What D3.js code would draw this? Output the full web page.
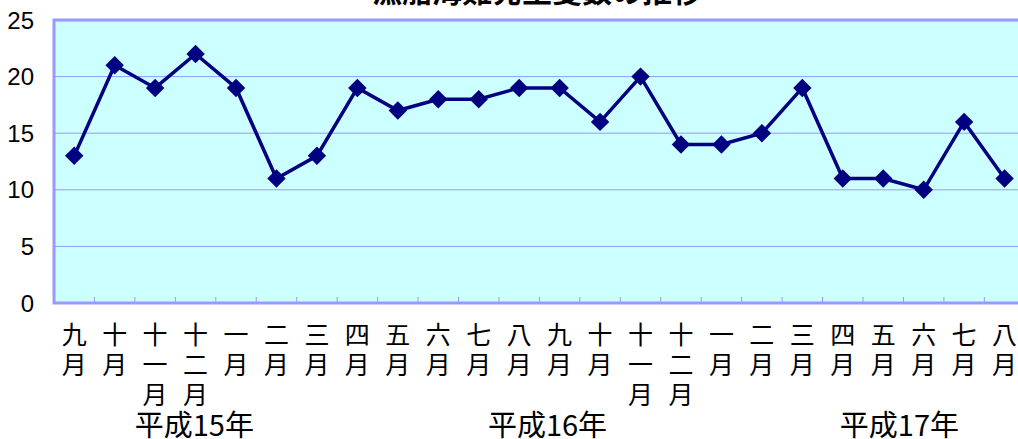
<html>
<head>
  <meta charset="utf-8">
  <style>
    body { margin: 0; background: #fff; }
    .ylab { font-family: "Liberation Sans", Arial, sans-serif; font-size: 24px; }
    .xlab { font-family: "Noto Sans CJK JP", sans-serif; font-size: 25px; }
    .year { font-family: "Noto Sans CJK JP", sans-serif; font-size: 29px; }
    .title { font-family: "Noto Sans CJK JP", sans-serif; font-size: 30px; font-weight: bold; }
  </style>
</head>
<body>
  <div id="chart"></div>
  <script src="https://cdn.jsdelivr.net/npm/d3@7"></script>
  <script>
    // month labels (vertical text), one per point
    let months = ["九月", "十月", "十一月", "十二月", "一月", "二月", "三月", "四月",
      "五月", "六月", "七月", "八月", "九月", "十月", "十一月", "十二月",
      "一月", "二月", "三月", "四月", "五月", "六月", "七月", "八月"];
    // number of boats
    let counts = [13, 21, 19, 22, 19, 11, 13, 19, 17, 18, 18, 19,
      19, 16, 20, 14, 14, 15, 19, 11, 11, 10, 16, 11];
    let yTicks = [0, 5, 10, 15, 20, 25];
    // year captions and where they sit (in category index units)
    let years = ["平成15年", "平成16年", "平成17年"];
    let yearPos = [2.97, 11.7, 20.4];
    let title = "漁船海難発生隻数の推移";

    let width = 1018, height = 439;
    let margin = { top: 20, left: 54, bottom: 303 };
    let band = 40.45;

    let svg = d3.select("#chart").append("svg")
      .attr("width", width)
      .attr("height", height);

    let x = d3.scaleBand()
      .domain(d3.range(counts.length))
      .range([margin.left, margin.left + band * counts.length]);
    let y = d3.scaleLinear()
      .domain([0, 25])
      .range([margin.bottom, margin.top]);
    let xc = function (i) { return x(i) + x.bandwidth() / 2; };

    // plot area
    svg.append("rect")
      .attr("x", x.range()[0])
      .attr("y", y(25))
      .attr("width", x.range()[1] - x.range()[0])
      .attr("height", y(0) - y(25))
      .attr("fill", "#ccffff");

    // gridlines
    svg.selectAll(".grid")
      .data(yTicks.slice(1, -1))
      .enter().append("line")
      .attr("x1", x.range()[0])
      .attr("x2", x.range()[1])
      .attr("y1", d => y(d))
      .attr("y2", d => y(d))
      .attr("stroke", "#9999ff")
      .attr("stroke-width", 1);

    // category tick marks (pointing up from the bottom)
    svg.selectAll(".tick")
      .data(d3.range(1, counts.length))
      .enter().append("line")
      .attr("x1", d => x(d))
      .attr("x2", d => x(d))
      .attr("y1", y(0))
      .attr("y2", y(0) - 6)
      .attr("stroke", "#9999ff")
      .attr("stroke-width", 1);

    // border
    svg.append("rect")
      .attr("x", x.range()[0])
      .attr("y", y(25))
      .attr("width", x.range()[1] - x.range()[0])
      .attr("height", y(0) - y(25))
      .attr("fill", "none")
      .attr("stroke", "#9999ff")
      .attr("stroke-width", 3);

    // y labels
    svg.selectAll(".ylab")
      .data(yTicks)
      .enter().append("text")
      .attr("class", "ylab")
      .attr("x", 34)
      .attr("y", d => y(d))
      .attr("dy", "0.36em")
      .attr("text-anchor", "end")
      .text(d => d);

    // line + diamonds
    let line = d3.line()
      .x((d, i) => xc(i))
      .y(d => y(d));
    svg.append("path")
      .datum(counts)
      .attr("d", line)
      .attr("fill", "none")
      .attr("stroke", "#000080")
      .attr("stroke-width", 3.5);

    let diamond = d3.symbol().type(d3.symbolSquare).size(170);
    svg.selectAll(".pt")
      .data(counts)
      .enter().append("path")
      .attr("d", diamond)
      .attr("transform", (d, i) => `translate(${xc(i)},${y(d)}) rotate(45)`)
      .attr("fill", "#000080");

    // month labels, one character per row
    let xl = svg.selectAll(".xlab")
      .data(months)
      .enter().append("text")
      .attr("class", "xlab")
      .attr("text-anchor", "middle");
    xl.selectAll("tspan")
      .data((d, i) => d.split("").map(c => ({ c: c, i: i })))
      .enter().append("tspan")
      .attr("x", d => xc(d.i))
      .attr("y", (d, j) => 334 + j * 30)
      .attr("dy", "0.38em")
      .text(d => d.c);

    // year captions
    svg.selectAll(".year")
      .data(years)
      .enter().append("text")
      .attr("class", "year")
      .attr("x", (d, i) => x(0) + band * (yearPos[i] + 0.5))
      .attr("y", 436)
      .attr("text-anchor", "middle")
      .text(d => d);

    // title, mostly cut off at the top
    svg.append("text")
      .attr("class", "title")
      .attr("x", 537)
      .attr("y", 2)
      .attr("text-anchor", "middle")
      .text(title);
  </script>
</body>
</html>
